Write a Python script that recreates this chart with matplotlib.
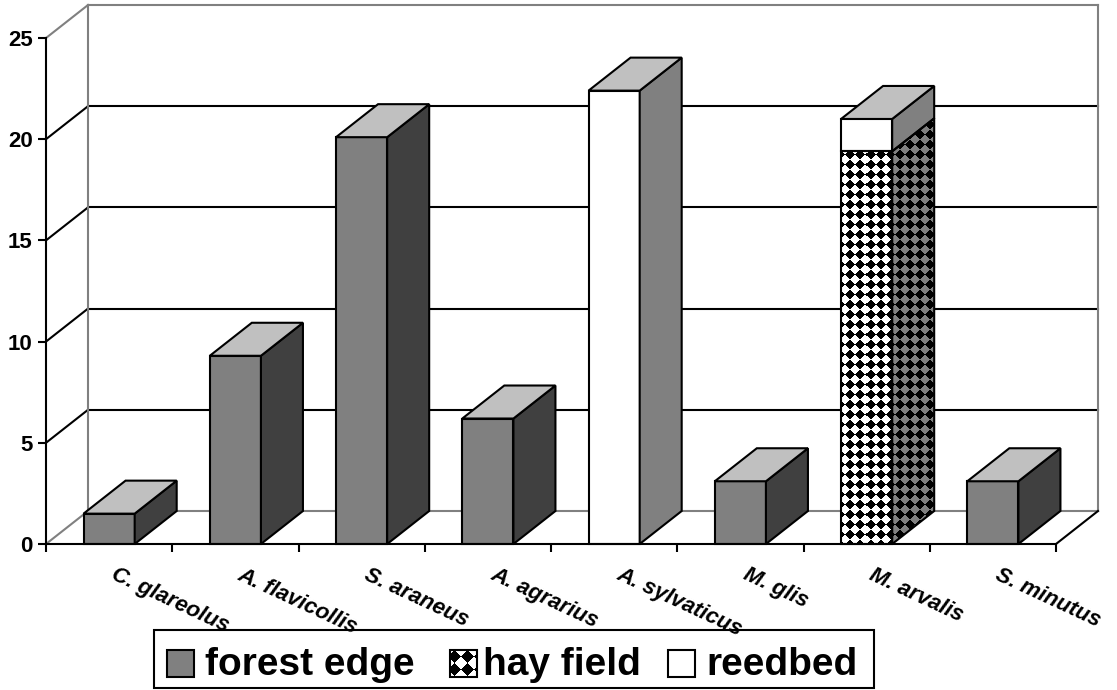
import numpy as np
import matplotlib
matplotlib.use('Agg')
import matplotlib.pyplot as plt
from matplotlib.patches import Polygon, Rectangle

plt.rcParams['font.family'] = ['Liberation Sans', 'DejaVu Sans']

# data
species = ['C. glareolus', 'A. flavicollis', 'S. araneus', 'A. agrarius',
           'A. sylvaticus', 'M. glis', 'M. arvalis', 'S. minutus']
forest_edge = [1.5, 9.3, 20.1, 6.2, 0, 3.1, 0, 3.1]
hay_field = [0, 0, 0, 0, 0, 0, 19.4, 0]
reedbed = [0, 0, 0, 0, 22.4, 0, 1.6, 0]
series_names = ['forest edge', 'hay field', 'reedbed']
yticks = [0, 5, 10, 15, 20, 25]

W, H = 1117, 690
fig = plt.figure(figsize=(W / 100, H / 100), dpi=100)
ax = fig.add_axes([46 / W, 1 - 544 / H, 1010 / W, 506 / H])
ax.set_xlim(0, len(species))
ax.set_ylim(0, 25)

DX = 42 / 126.25   # depth offset, category units
DY = 33 / 20.24    # depth offset, value units
BW = 0.405         # bar width
TOP = '#c0c0c0'
GREY = '#808080'


def checker(axis, xy, bg, period=10, z=3):
    # diamond checker fill (black on bg), clipped to polygon xy
    xy = np.asarray(xy, float)
    xa, xb = xy[:, 0].min(), xy[:, 0].max()
    ya, yb = xy[:, 1].min(), xy[:, 1].max()
    (p0x, p0y), (p1x, p1y) = axis.transData.transform([(xa, ya), (xb, yb)])
    nx = max(int(round(abs(p1x - p0x))), 1)
    ny = max(int(round(abs(p1y - p0y))), 1)
    px = min(p0x, p1x) + np.arange(nx) + 0.5
    py = max(p0y, p1y) - np.arange(ny) - 0.5
    X, Y = np.meshgrid(px, py)
    cells = (np.floor((X + Y) / period) + np.floor((X - Y) / period)) % 2
    bgc = np.array(matplotlib.colors.to_rgb(bg))
    rgb = np.where(cells[..., None] == 1, 0.0, bgc)
    im = axis.imshow(rgb, extent=(xa, xb, ya, yb), origin='upper',
                     interpolation='nearest', aspect='auto', zorder=z)
    clip = Polygon(xy, closed=True, transform=axis.transData,
                   facecolor='none', edgecolor='none')
    im.set_clip_path(clip)
    axis.add_patch(Polygon(xy, closed=True, fill=False, edgecolor='black',
                           lw=1.5, zorder=z + 0.1, clip_on=False))


def face(xy, color, z=3):
    ax.add_patch(Polygon(xy, closed=True, facecolor=color, edgecolor='black',
                         lw=1.5, joinstyle='miter', zorder=z, clip_on=False))


# walls and gridlines
n = len(species)
for v in yticks:
    c = GREY if v in (0, 25) else 'black'
    ax.plot([DX, n + DX], [v + DY, v + DY], color=c, lw=1.5, zorder=1, clip_on=False)
    ax.plot([0, DX], [v, v + DY], color=c, lw=1.5, zorder=1, clip_on=False)
for xw in (DX, n + DX):
    ax.plot([xw, xw], [DY, 25 + DY], color=GREY, lw=1.5, zorder=1, clip_on=False)
ax.plot([n, n + DX], [0, DY], color='black', lw=1.5, zorder=1, clip_on=False)

# stacked 3d bars
styles = [(forest_edge, GREY, '#404040'),
          (hay_field, 'checker', GREY),
          (reedbed, 'white', GREY)]
totals = np.sum([s[0] for s in styles], axis=0)
for i in range(n):
    x0 = i + 0.5 - BW / 2
    x1 = i + 0.5 + BW / 2
    lo = 0.0
    for vals, front, side in styles:
        v = vals[i]
        if v <= 0:
            continue
        hi = lo + v
        fxy = [(x0, lo), (x1, lo), (x1, hi), (x0, hi)]
        sxy = [(x1, lo), (x1 + DX, lo + DY), (x1 + DX, hi + DY), (x1, hi)]
        if front == 'checker':
            checker(ax, fxy, 'white')
            checker(ax, sxy, side)
        else:
            face(fxy, front)
            face(sxy, side)
        if np.isclose(hi, totals[i]):
            face([(x0, hi), (x1, hi), (x1 + DX, hi + DY), (x0 + DX, hi + DY)], TOP)
        lo = hi

ax.set_xlim(0, n)
ax.set_ylim(0, 25)

# axes
for s in ('top', 'right'):
    ax.spines[s].set_visible(False)
for s in ('left', 'bottom'):
    ax.spines[s].set_linewidth(1.5)
    ax.spines[s].set_zorder(6)
ax.patch.set_alpha(0)
ax.set_yticks(yticks)
ax.set_xticks(range(n + 1))
ax.set_xticklabels([])
ax.tick_params(axis='y', length=6, width=1.5, pad=3.5, labelsize=16)
ax.tick_params(axis='x', length=6, width=1.5)
for lbl in ax.get_yticklabels():
    lbl.set_fontweight('bold')

for i, name in enumerate(species):
    ax.annotate(name, xy=(i + 0.5, 0), xytext=(8, -20), textcoords='offset pixels',
                rotation=-25, rotation_mode='anchor', ha='left', va='top',
                fontsize=16, fontweight='bold', fontstyle='italic')

# legend drawn in pixel space
lax = fig.add_axes([0, 0, 1, 1], zorder=5)
lax.set_xlim(0, W)
lax.set_ylim(H, 0)
lax.axis('off')
lax.patch.set_alpha(0)
lax.add_patch(Rectangle((154, 630), 720, 58, fill=False, edgecolor='black', lw=1.5))
hx = [167, 450, 668]
tx = [205, 483, 706]
for k, name in enumerate(series_names):
    sq = [(hx[k], 650), (hx[k] + 27, 650), (hx[k] + 27, 677), (hx[k], 677)]
    if k == 1:
        checker(lax, sq, 'white', period=13, z=6)
    else:
        lax.add_patch(Polygon(sq, closed=True, facecolor=[GREY, None, 'white'][k],
                              edgecolor='black', lw=1.5))
    lax.text(tx[k], 675, name, fontsize=28, fontweight='bold', va='baseline', ha='left')
lax.set_xlim(0, W)
lax.set_ylim(H, 0)

fig.savefig('out.png', dpi=100)
